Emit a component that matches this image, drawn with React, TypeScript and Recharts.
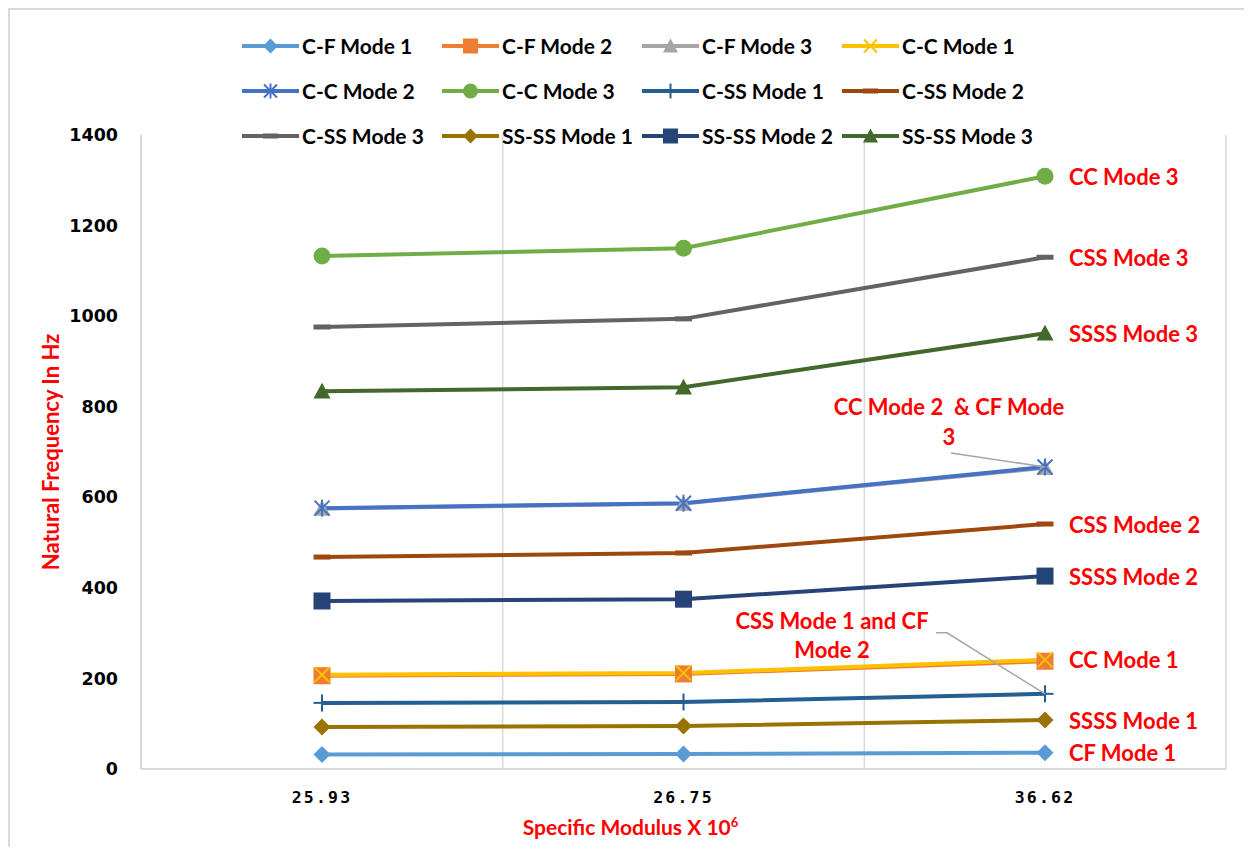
import React from 'react';
import {
  LineChart,
  Line,
  XAxis,
  YAxis,
  CartesianGrid,
  LabelList,
  Label,
} from 'recharts';

// specific modulus (x 10^6) categories
const categories = ['25.93', '26.75', '36.62'];

// natural frequencies in Hz, one array per boundary condition / mode
const cfMode1 = [32, 33, 36];
const cfMode2 = [206, 210, 238];
const cfMode3 = [575, 586, 665];
const ccMode1 = [208, 212, 241];
const ccMode2 = [576, 587, 667];
const ccMode3 = [1133, 1150, 1309];
const cssMode1 = [146, 148, 166];
const cssMode2 = [468, 477, 541];
const cssMode3 = [976, 994, 1130];
const ssssMode1 = [93, 95, 108];
const ssssMode2 = [371, 375, 426];
const ssssMode3 = [834, 843, 962];

const yTicks = [0, 200, 400, 600, 800, 1000, 1200, 1400];

type Shape = 'diamond' | 'square' | 'triangle' | 'x' | 'star' | 'circle' | 'plus' | 'dash';

interface SeriesDef {
  key: string;
  name: string;
  values: number[];
  color: string;
  shape: Shape;
}

const series: SeriesDef[] = [
  { key: 'cf1', name: 'C-F Mode 1', values: cfMode1, color: '#5B9BD5', shape: 'diamond' },
  { key: 'cf2', name: 'C-F Mode 2', values: cfMode2, color: '#ED7D31', shape: 'square' },
  { key: 'cf3', name: 'C-F Mode 3', values: cfMode3, color: '#A5A5A5', shape: 'triangle' },
  { key: 'cc1', name: 'C-C Mode 1', values: ccMode1, color: '#FFC000', shape: 'x' },
  { key: 'cc2', name: 'C-C Mode 2', values: ccMode2, color: '#4472C4', shape: 'star' },
  { key: 'cc3', name: 'C-C Mode 3', values: ccMode3, color: '#70AD47', shape: 'circle' },
  { key: 'css1', name: 'C-SS Mode 1', values: cssMode1, color: '#255E91', shape: 'plus' },
  { key: 'css2', name: 'C-SS Mode 2', values: cssMode2, color: '#9E480E', shape: 'dash' },
  { key: 'css3', name: 'C-SS Mode 3', values: cssMode3, color: '#636363', shape: 'dash' },
  { key: 'ssss1', name: 'SS-SS Mode 1', values: ssssMode1, color: '#997300', shape: 'diamond' },
  { key: 'ssss2', name: 'SS-SS Mode 2', values: ssssMode2, color: '#264478', shape: 'square' },
  { key: 'ssss3', name: 'SS-SS Mode 3', values: ssssMode3, color: '#43682B', shape: 'triangle' },
];

const data = categories.map((c, i) => {
  const row: Record<string, string | number> = { modulus: c };
  series.forEach((s) => {
    row[s.key] = s.values[i];
  });
  return row;
});

// red end-of-line notes, drawn next to the last point of a series
interface Callout {
  lines: string[];
  dx: number;
  dy: number[];
  anchor: 'start' | 'middle';
  leader?: [number, number][];
}

const callouts: Record<string, Callout> = {
  cc3: { lines: ['CC Mode 3'], dx: 24, dy: [0], anchor: 'start' },
  css3: { lines: ['CSS Mode 3'], dx: 24, dy: [0], anchor: 'start' },
  ssss3: { lines: ['SSSS Mode 3'], dx: 24, dy: [0], anchor: 'start' },
  cc2: {
    lines: ['CC Mode 2  & CF Mode', '3'],
    dx: -96,
    dy: [-60, -30],
    anchor: 'middle',
    leader: [[-94, -14], [0, 0]],
  },
  css2: { lines: ['CSS Modee 2'], dx: 24, dy: [0], anchor: 'start' },
  ssss2: { lines: ['SSSS Mode 2'], dx: 24, dy: [0], anchor: 'start' },
  css1: {
    lines: ['CSS Mode 1 and CF', 'Mode 2'],
    dx: -213,
    dy: [-73, -44],
    anchor: 'middle',
    leader: [[-109, -61], [-98, -61], [0, 0]],
  },
  cc1: { lines: ['CC Mode 1'], dx: 24, dy: [0], anchor: 'start' },
  ssss1: { lines: ['SSSS Mode 1'], dx: 24, dy: [0], anchor: 'start' },
  cf1: { lines: ['CF Mode 1'], dx: 24, dy: [0], anchor: 'start' },
};

const LABEL_FONT = 'Lato, "Liberation Sans Narrow", "Liberation Sans", sans-serif';
const GRID = '#D9D9D9';

const Marker = ({ shape, color, cx, cy, size = 17 }: { shape: Shape; color: string; cx: number; cy: number; size?: number }) => {
  const h = size / 2;
  switch (shape) {
    case 'diamond':
      return <polygon points={`${cx},${cy - h} ${cx + h},${cy} ${cx},${cy + h} ${cx - h},${cy}`} fill={color} />;
    case 'square':
      return <rect x={cx - h} y={cy - h} width={size} height={size} fill={color} />;
    case 'triangle':
      return <polygon points={`${cx},${cy - h} ${cx + h},${cy + h * 0.85} ${cx - h},${cy + h * 0.85}`} fill={color} />;
    case 'circle':
      return <circle cx={cx} cy={cy} r={h} fill={color} />;
    case 'x':
      return (
        <g stroke={color} strokeWidth={2}>
          <line x1={cx - h + 1} y1={cy - h + 1} x2={cx + h - 1} y2={cy + h - 1} />
          <line x1={cx - h + 1} y1={cy + h - 1} x2={cx + h - 1} y2={cy - h + 1} />
        </g>
      );
    case 'star':
      return (
        <g stroke={color} strokeWidth={2}>
          <line x1={cx - h + 1} y1={cy - h + 1} x2={cx + h - 1} y2={cy + h - 1} />
          <line x1={cx - h + 1} y1={cy + h - 1} x2={cx + h - 1} y2={cy - h + 1} />
          <line x1={cx} y1={cy - h} x2={cx} y2={cy + h} />
        </g>
      );
    case 'plus':
      return (
        <g stroke={color} strokeWidth={2}>
          <line x1={cx - h} y1={cy} x2={cx + h} y2={cy} />
          <line x1={cx} y1={cy - h} x2={cx} y2={cy + h} />
        </g>
      );
    case 'dash':
      return <rect x={cx - h} y={cy - 2.5} width={size} height={5} fill={color} />;
    default:
      return null;
  }
};

const renderCallout = (key: string) => (props: any) => {
  const note = callouts[key];
  if (!note || props.index !== categories.length - 1) return null;
  const x = props.x ?? props.viewBox?.x;
  const y = props.y ?? props.viewBox?.y;
  return (
    <g key={`note-${key}`}>
      {note.leader && (
        <polyline
          points={note.leader.map(([lx, ly]) => `${x + lx},${y + ly}`).join(' ')}
          fill="none"
          stroke="#A6A6A6"
          strokeWidth={1.5}
        />
      )}
      {note.lines.map((line, i) => (
        <text
          key={i}
          x={x + note.dx}
          y={y + note.dy[i]}
          textAnchor={note.anchor}
          dominantBaseline="central"
          fill="#FF0000"
          fontFamily={LABEL_FONT}
          fontWeight={700}
          fontSize={22}
          style={{ whiteSpace: 'pre' }}
        >
          {line}
        </text>
      ))}
    </g>
  );
};

const ChartLegend = () => (
  <div
    style={{
      position: 'absolute',
      left: 232,
      top: 13,
      display: 'grid',
      gridTemplateColumns: 'repeat(4, 200px)',
      gridAutoRows: '45px',
      fontFamily: LABEL_FONT,
      fontWeight: 700,
      fontSize: 21,
      color: '#000',
    }}
  >
    {series.map((s) => (
      <div key={s.key} style={{ display: 'flex', alignItems: 'center' }}>
        <svg width={57} height={20} style={{ marginRight: 3 }}>
          <line x1={0} y1={10} x2={57} y2={10} stroke={s.color} strokeWidth={4} />
          <Marker shape={s.shape} color={s.color} cx={28.5} cy={10} size={15} />
        </svg>
        <span>{s.name}</span>
      </div>
    ))}
  </div>
);

export default function App() {
  return (
    <div
      style={{
        position: 'relative',
        width: 1234,
        height: 837,
        borderTop: `2px solid ${GRID}`,
        borderLeft: `2px solid ${GRID}`,
        background: '#fff',
      }}
    >
      <LineChart
        width={1234}
        height={837}
        data={data}
        margin={{ top: 125, right: 18, bottom: 28, left: 0 }}
      >
        <CartesianGrid
          horizontal={false}
          stroke={GRID}
          strokeWidth={1.5}
          verticalCoordinatesGenerator={({ offset }: any) =>
            [0, 1, 2, 3].map((i) => offset.left + (offset.width * i) / 3)
          }
        />
        <XAxis
          dataKey="modulus"
          height={50}
          padding={{ left: 181, right: 181 }}
          axisLine={{ stroke: GRID, strokeWidth: 2 }}
          tickLine={false}
          tickSize={0}
          tickMargin={22}
          tick={{
            fill: '#000',
            fontSize: 16.5,
            fontWeight: 700,
            fontFamily: '"DejaVu Sans Mono", monospace',
            letterSpacing: 2.2,
          }}
        >
          <Label
            content={({ viewBox }: any) => (
              <text
                x={viewBox.x + viewBox.width / 2 - 53}
                y={viewBox.y + 66}
                textAnchor="middle"
                fill="#FF0000"
                fontFamily={LABEL_FONT}
                fontWeight={700}
                fontSize={21}
              >
                Specific Modulus X 10
                <tspan fontSize={13} dy={-8}>6</tspan>
              </text>
            )}
          />
        </XAxis>
        <YAxis
          width={131}
          domain={[0, 1400]}
          ticks={yTicks}
          axisLine={{ stroke: GRID, strokeWidth: 2 }}
          tickLine={false}
          tickSize={0}
          tickMargin={23}
          tick={{ fill: '#000', fontSize: 17.5, fontWeight: 700, fontFamily: '"DejaVu Sans", sans-serif' }}
        >
          <Label
            content={({ viewBox }: any) => {
              const cy = viewBox.y + viewBox.height / 2;
              return (
                <text
                  x={40}
                  y={cy}
                  transform={`rotate(-90, 40, ${cy})`}
                  textAnchor="middle"
                  dominantBaseline="central"
                  fill="#FF0000"
                  fontFamily={LABEL_FONT}
                  fontWeight={700}
                  fontSize={22}
                >
                  Natural Frequency In Hz
                </text>
              );
            }}
          />
        </YAxis>
        {series.map((s) => (
          <Line
            key={s.key}
            type="linear"
            dataKey={s.key}
            name={s.name}
            stroke={s.color}
            strokeWidth={4}
            isAnimationActive={false}
            activeDot={false}
            dot={(p: any) => (
              <Marker key={`${s.key}-${p.index}`} shape={s.shape} color={s.color} cx={p.cx} cy={p.cy} />
            )}
          >
            {callouts[s.key] && <LabelList dataKey={s.key} content={renderCallout(s.key)} />}
          </Line>
        ))}
      </LineChart>
      <ChartLegend />
    </div>
  );
}
